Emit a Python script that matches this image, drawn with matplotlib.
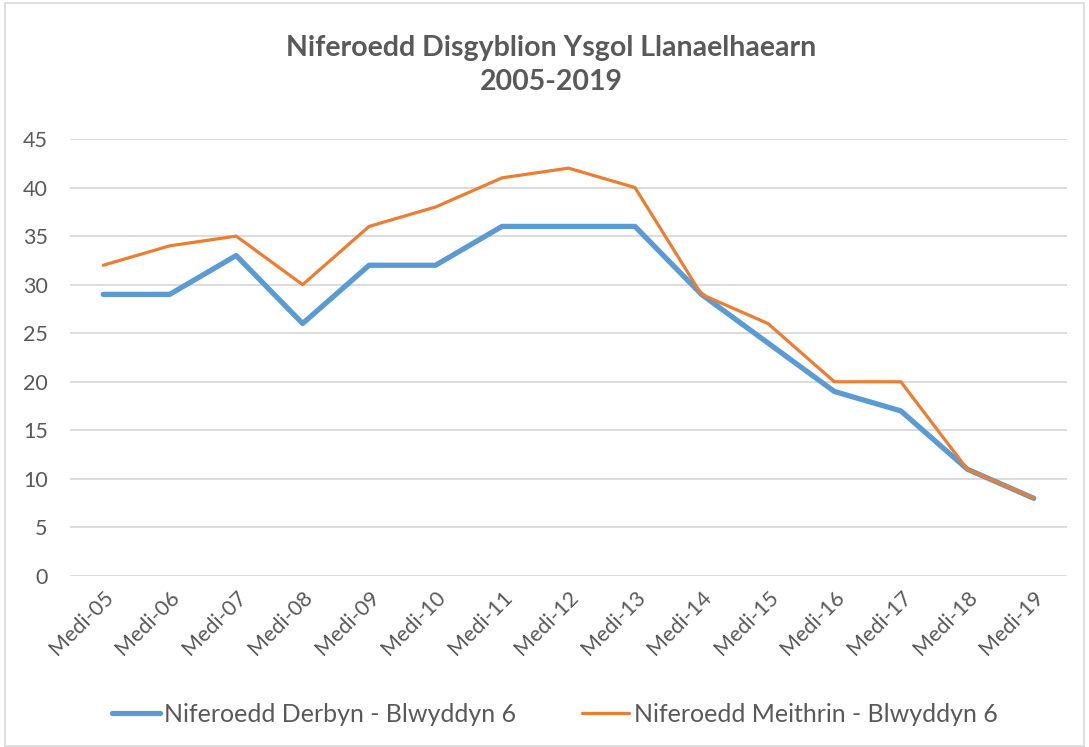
import matplotlib
matplotlib.use("Agg")
import matplotlib.pyplot as plt
from matplotlib.patches import Rectangle

categories = ["Medi-05", "Medi-06", "Medi-07", "Medi-08", "Medi-09", "Medi-10", "Medi-11",
              "Medi-12", "Medi-13", "Medi-14", "Medi-15", "Medi-16", "Medi-17", "Medi-18", "Medi-19"]
derbyn = [29, 29, 33, 26, 32, 32, 36, 36, 36, 29, 24, 19, 17, 11, 8]
meithrin = [32, 34, 35, 30, 36, 38, 41, 42, 40, 29, 26, 20, 20, 11, 8]
yticks = [0, 5, 10, 15, 20, 25, 30, 35, 40, 45]
title = "Niferoedd Disgyblion Ysgol Llanaelhaearn\n2005-2019"
label_derbyn = "Niferoedd Derbyn - Blwyddyn 6"
label_meithrin = "Niferoedd Meithrin - Blwyddyn 6"

plt.rcParams['font.family'] = ['Lato', 'DejaVu Sans']
text_color = "#595959"

fig = plt.figure(figsize=(10.89, 7.47), dpi=100)
ax = fig.add_axes([70/1089, 1-576/747, (1067-70)/1089, (576-139)/747])

x = list(range(len(categories)))
ax.plot(x, derbyn, color="#5B9BD5", lw=3.8, solid_capstyle="round", solid_joinstyle="round",
        label=label_derbyn, zorder=3)
ax.plot(x, meithrin, color="#ED7D31", lw=2.3, solid_capstyle="round", solid_joinstyle="round",
        label=label_meithrin, zorder=4)

ax.set_xlim(-0.5, len(categories) - 0.5)
ax.set_ylim(0, 45)
ax.set_yticks(yticks)
ax.set_yticklabels([str(v) for v in yticks], fontsize=15.5, color=text_color)
ax.set_xticks(x)
ax.set_xticklabels(categories, rotation=45, ha="right", rotation_mode="anchor",
                   fontsize=15.5, color=text_color)
ax.tick_params(axis="both", length=0)
ax.tick_params(axis="y", pad=16)
ax.tick_params(axis="x", pad=8)
ax.grid(axis="y", color="#D9D9D9", lw=1.3)
ax.set_axisbelow(True)
for s in ax.spines.values():
    s.set_visible(False)

fig.text(551/1089, 1-65/747, title, ha="center", va="center", fontsize=20.5,
         fontweight="bold", color=text_color, linespacing=1.35)

leg = fig.legend(loc="center", bbox_to_anchor=(555/1089, 1-714/747), ncol=2, frameon=False,
                 fontsize=18, handlelength=1.9, columnspacing=2.6, handletextpad=0.2)
for t in leg.get_texts():
    t.set_color(text_color)

fig.patches.append(Rectangle((5/1089, 0.002), 1 - 10/1089, 0.994, transform=fig.transFigure,
                             fill=False, edgecolor="#D9D9D9", lw=1.2))

fig.savefig("out.png", dpi=100, facecolor="white")
